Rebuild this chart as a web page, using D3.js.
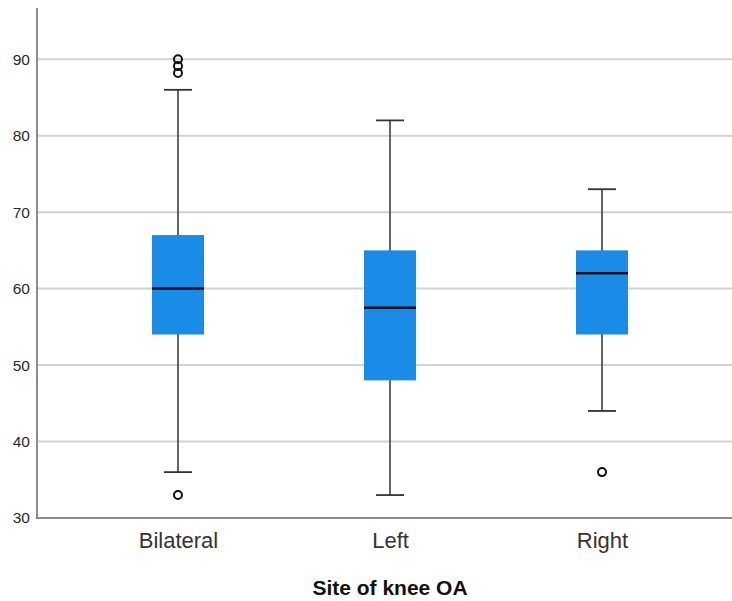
<!DOCTYPE html>
<html><head><meta charset="utf-8">
<script src="https://cdn.jsdelivr.net/npm/d3@7"></script>
<style>body{margin:0;background:#fff}svg{display:block}</style>
</head><body>
<svg id="c" width="732" height="601"></svg>
<script>
const categories = ["Bilateral", "Left", "Right"];
const q1 = [54, 48, 54];
const medians = [60, 57.5, 62];
const q3 = [67, 65, 65];
const whiskerLow = [36, 33, 44];
const whiskerHigh = [86, 82, 73];
const outliers = [[88.2, 89.1, 90, 33], [], [36]];
const yTicks = [30, 40, 50, 60, 70, 80, 90];
const xTitle = "Site of knee OA";

(function () {
const svg = d3.select("#c");
const mLeft = 37, mRight = 743, mTop = 8, mBottom = 518;
const y = d3.scaleLinear().domain([30, 96.7]).range([mBottom, mTop]);
const x = d3.scalePoint().domain(categories).range([mLeft, mRight]).padding(0.665);
const boxW = 52, capW = 26;
const font = "Arial, 'Liberation Sans', sans-serif";

// gridlines
svg.append("g").selectAll("line").data(yTicks.filter(t => t > 30)).join("line")
  .attr("x1", mLeft).attr("x2", 732).attr("y1", d => y(d)).attr("y2", d => y(d))
  .attr("stroke", "#d2d2d2").attr("stroke-width", 2);

// axes
const yAxis = d3.axisLeft(y).tickValues(yTicks).tickSize(0).tickPadding(7);
const gy = svg.append("g").attr("transform", `translate(${mLeft},0)`).call(yAxis);
gy.select(".domain").remove();
gy.selectAll("text").attr("font-family", font).attr("font-size", 15.5).attr("fill", "#2a2a2a");
svg.append("line").attr("x1", mLeft).attr("x2", mLeft).attr("y1", mTop).attr("y2", mBottom + 1)
  .attr("stroke", "#8c8c8c").attr("stroke-width", 2);
svg.append("line").attr("x1", mLeft - 1).attr("x2", 732).attr("y1", mBottom).attr("y2", mBottom)
  .attr("stroke", "#8c8c8c").attr("stroke-width", 2);

const xAxis = d3.axisBottom(x).tickSize(0).tickPadding(14.5);
const gx = svg.append("g").attr("transform", `translate(0,${mBottom})`).call(xAxis);
gx.select(".domain").remove();
gx.selectAll("text").attr("font-family", font).attr("font-size", 22).attr("fill", "#333");

svg.append("text").attr("x", 390).attr("y", 595).attr("text-anchor", "middle")
  .attr("font-family", font).attr("font-weight", "bold")
  .attr("font-size", 21).attr("fill", "#111").text(xTitle);

const data = categories.map((c, i) => ({c, lo: whiskerLow[i], q1: q1[i], med: medians[i], q3: q3[i], hi: whiskerHigh[i], out: outliers[i]}));
const g = svg.append("g").selectAll("g").data(data).join("g");
// whiskers
g.append("line").attr("x1", d => x(d.c)).attr("x2", d => x(d.c))
  .attr("y1", d => y(d.hi)).attr("y2", d => y(d.lo)).attr("stroke", "#333").attr("stroke-width", 1.5);
g.append("line").attr("x1", d => x(d.c) - capW/2 - 1).attr("x2", d => x(d.c) + capW/2 + 1)
  .attr("y1", d => y(d.hi)).attr("y2", d => y(d.hi)).attr("stroke", "#333").attr("stroke-width", 1.8);
g.append("line").attr("x1", d => x(d.c) - capW/2 - 1).attr("x2", d => x(d.c) + capW/2 + 1)
  .attr("y1", d => y(d.lo)).attr("y2", d => y(d.lo)).attr("stroke", "#333").attr("stroke-width", 1.8);
// boxes
g.append("rect").attr("x", d => x(d.c) - boxW/2).attr("width", boxW)
  .attr("y", d => y(d.q3)).attr("height", d => y(d.q1) - y(d.q3)).attr("fill", "#1a8be6");
g.append("line").attr("x1", d => x(d.c) - boxW/2).attr("x2", d => x(d.c) + boxW/2)
  .attr("y1", d => y(d.med)).attr("y2", d => y(d.med)).attr("stroke", "#0a0f1e").attr("stroke-width", 2.5);
// outliers
g.selectAll("circle").data(d => d.out.map(v => ({c: d.c, v}))).join("circle")
  .attr("cx", d => x(d.c)).attr("cy", d => y(d.v)).attr("r", 4)
  .attr("fill", "none").attr("stroke", "#111").attr("stroke-width", 2);
})();
</script>
</body></html>
